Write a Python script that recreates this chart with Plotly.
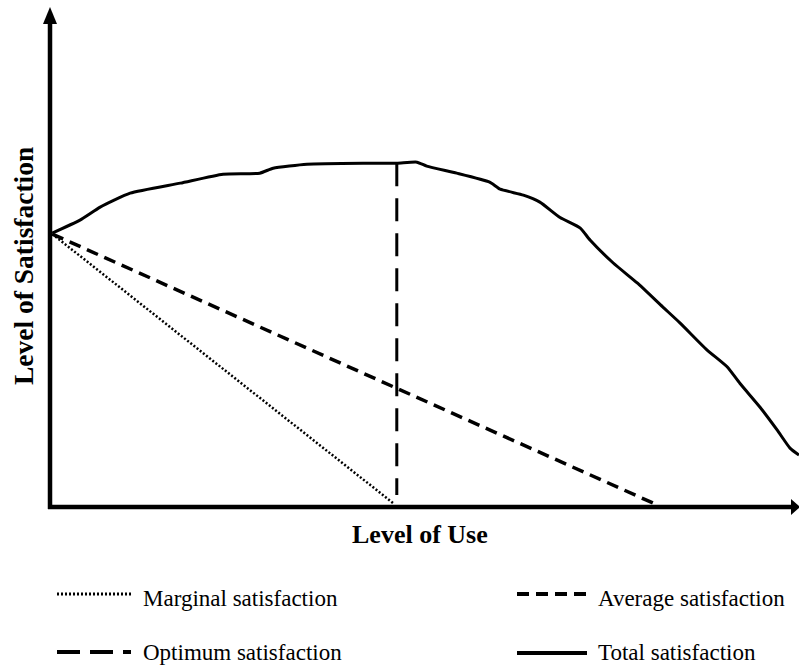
import plotly.graph_objects as go

# ---- data (level of use 0..100, level of satisfaction 0..100) ----
total_x = [0.3, 4.0, 6.7, 10.7, 17.4, 23.1, 28.0, 29.8, 34.3, 41.8, 46.3, 49.0, 50.3,
           54.3, 58.7, 60.1, 63.2, 65.4, 68.1, 70.8, 72.1, 75.2, 78.4, 81.8, 84.1,
           87.7, 90.4, 92.1, 94.8, 97.1, 98.8, 100.0]
total_y = [54.9, 57.5, 60.1, 62.9, 64.9, 66.7, 66.9, 67.9, 68.7, 68.9, 68.9, 69.1, 68.3,
           66.9, 65.1, 63.7, 62.5, 61.1, 58.0, 55.9, 53.5, 48.9, 44.9, 40.1, 36.9,
           31.5, 28.1, 24.8, 20.0, 15.4, 11.8, 10.4]
marginal_x = [0.3, 45.8]
marginal_y = [54.7, 0.8]
average_x = [0.3, 80.5]
average_y = [54.7, 0.8]
optimum_x = [46.3, 46.3]
optimum_y = [68.9, 2.4]

legend_labels = ["Marginal satisfaction", "Average satisfaction",
                 "Optimum satisfaction", "Total satisfaction"]
x_title = "Level of Use"
y_title = "Level of Satisfaction"

SERIF = "Liberation Serif"
W, H = 799, 666
L, R, T, B = 50, 0, 8, 159
PW, PH = W - L - R, H - T - B


def px(x):
    return (x - L) / PW


def py(y):
    return (H - B - y) / PH


fig = go.Figure()
fig.add_trace(go.Scatter(x=total_x, y=total_y, mode="lines",
                         line=dict(color="black", width=3, shape="spline", smoothing=0.5),
                         name=legend_labels[3]))
fig.add_trace(go.Scatter(x=marginal_x, y=marginal_y, mode="lines",
                         line=dict(color="black", width=2.5, dash="2px,2px"), name=legend_labels[0]))
fig.add_trace(go.Scatter(x=average_x, y=average_y, mode="lines",
                         line=dict(color="black", width=3.5, dash="12px,7px"), name=legend_labels[1]))
fig.add_trace(go.Scatter(x=optimum_x, y=optimum_y, mode="lines",
                         line=dict(color="black", width=3, dash="23px,12px"), name=legend_labels[2]))

shapes = []
# axes with arrows
shapes.append(dict(type="line", xref="paper", yref="paper", x0=px(50), x1=px(50),
                   y0=py(509), y1=py(20), line=dict(color="black", width=4.5)))
shapes.append(dict(type="line", xref="paper", yref="paper", x0=px(48), x1=px(793),
                   y0=py(507), y1=py(507), line=dict(color="black", width=4.5)))
shapes.append(dict(type="path", xref="paper", yref="paper",
                   path=f"M {px(50)},{py(7)} L {px(43)},{py(24)} L {px(57)},{py(24)} Z",
                   fillcolor="black", line=dict(width=0)))
shapes.append(dict(type="path", xref="paper", yref="paper",
                   path=f"M {px(800)},{py(507)} L {px(791)},{py(499)} L {px(791)},{py(515)} Z",
                   fillcolor="black", line=dict(width=0)))
# legend samples
shapes.append(dict(type="line", xref="paper", yref="paper", x0=px(57), x1=px(131),
                   y0=py(594), y1=py(594), line=dict(color="black", width=3, dash="2px,2px")))
shapes.append(dict(type="line", xref="paper", yref="paper", x0=px(57), x1=px(131),
                   y0=py(652), y1=py(652), line=dict(color="black", width=4, dash="23px,10px")))
shapes.append(dict(type="line", xref="paper", yref="paper", x0=px(517), x1=px(587),
                   y0=py(594), y1=py(594), line=dict(color="black", width=4, dash="12px,7px")))
shapes.append(dict(type="line", xref="paper", yref="paper", x0=px(517), x1=px(587),
                   y0=py(653), y1=py(653), line=dict(color="black", width=4)))

ann = []
ann.append(dict(text=f"<b>{x_title}</b>", xref="paper", yref="paper", x=px(420), y=py(534),
                showarrow=False, xanchor="center", yanchor="middle",
                font=dict(family=SERIF, size=26, color="black")))
ann.append(dict(text=f"<b>{y_title}</b>", xref="paper", yref="paper", x=px(23), y=py(266),
                showarrow=False, xanchor="center", yanchor="middle", textangle=-90,
                font=dict(family=SERIF, size=27.5, color="black")))
leg_pos = [(141, 598), (596, 598), (141, 652), (596, 652)]
for lab, (lx, ly) in zip(legend_labels, leg_pos):
    ann.append(dict(text=lab, xref="paper", yref="paper", x=px(lx), y=py(ly),
                    showarrow=False, xanchor="left", yanchor="middle",
                    font=dict(family=SERIF, size=23, color="black")))

fig.update_layout(
    width=W, height=H,
    margin=dict(l=L, r=R, t=T, b=B, pad=0),
    paper_bgcolor="white", plot_bgcolor="white",
    showlegend=False,
    font=dict(family=SERIF, color="black"),
    xaxis=dict(range=[0, 100], visible=False, fixedrange=True),
    yaxis=dict(range=[0, 100], visible=False, fixedrange=True),
    shapes=shapes, annotations=ann,
)
fig.write_html("out.html", config={"displayModeBar": False},
               post_script="document.body.style.margin='0';document.body.style.overflow='hidden';")
